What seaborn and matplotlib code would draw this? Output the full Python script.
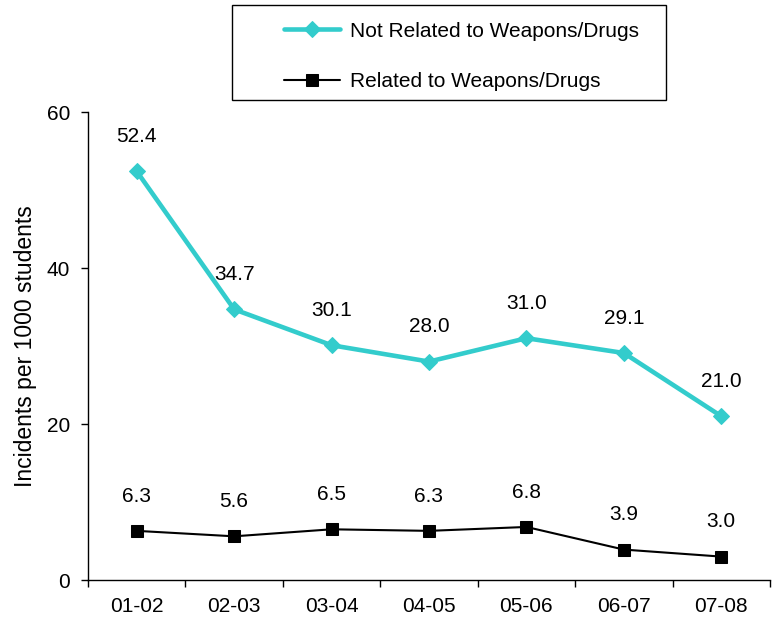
import matplotlib
matplotlib.use("Agg")
import matplotlib.pyplot as plt
from matplotlib.patches import Rectangle
import seaborn as sns
import pandas as pd

years = ["01-02", "02-03", "03-04", "04-05", "05-06", "06-07", "07-08"]
not_related = [52.4, 34.7, 30.1, 28.0, 31.0, 29.1, 21.0]
related = [6.3, 5.6, 6.5, 6.3, 6.8, 3.9, 3.0]
y_ticks = [0, 20, 40, 60]

sns.set_style("white")
plt.rcParams["font.family"] = ["Liberation Sans", "DejaVu Sans"]
plt.rcParams["text.color"] = "black"
plt.rcParams["axes.labelcolor"] = "black"
plt.rcParams["xtick.color"] = "black"
plt.rcParams["ytick.color"] = "black"

FS = 15

df = pd.DataFrame({"year": years, "not_related": not_related, "related": related})

fig = plt.figure(figsize=(7.74, 6.23), dpi=100)
ax = fig.add_axes([88 / 774, 1 - 580 / 623, (770 - 88) / 774, (580 - 112) / 623])

cyan = "#33CCCC"
sns.lineplot(data=df, x="year", y="not_related", ax=ax, color=cyan, lw=3.3,
             marker="D", markersize=8, markeredgecolor=cyan,
             label="Not Related to Weapons/Drugs")
sns.lineplot(data=df, x="year", y="related", ax=ax, color="black", lw=1.5,
             marker="s", markersize=8, markeredgecolor="black",
             label="Related to Weapons/Drugs")

for i, v in enumerate(not_related):
    ax.annotate(f"{v:.1f}", (i, v), xytext=(0, 25), textcoords="offset points",
                ha="center", va="center", fontsize=FS)
for i, v in enumerate(related):
    ax.annotate(f"{v:.1f}", (i, v), xytext=(0, 25), textcoords="offset points",
                ha="center", va="center", fontsize=FS)

ax.set_xlim(-0.5, len(years) - 0.5)
ax.set_ylim(0, 60)
ax.set_yticks(y_ticks)
ax.set_xticks(range(len(years)))
ax.set_xticklabels(years)
ax.set_xticks([i - 0.5 for i in range(len(years) + 1)], minor=True)
ax.tick_params(axis="x", which="major", bottom=True, length=0, pad=12, labelsize=FS)
ax.tick_params(axis="x", which="minor", bottom=True, length=5, width=1, direction="out")
ax.tick_params(axis="y", left=True, length=5, width=1, direction="out", pad=8, labelsize=FS)
ax.set_xlabel("")
ax.set_ylabel("Incidents per 1000 students", fontsize=16.5, labelpad=7)
for s in ["top", "right"]:
    ax.spines[s].set_visible(False)
for s in ["left", "bottom"]:
    ax.spines[s].set_color("black")
    ax.spines[s].set_linewidth(1)

leg = ax.legend(loc="upper left", bbox_to_anchor=(265 / 774, 1 - 3 / 623),
                bbox_transform=fig.transFigure, frameon=False, fontsize=FS,
                handlelength=2.7, handletextpad=0.5, labelspacing=1.5)
fig.add_artist(Rectangle((232 / 774, 1 - 100 / 623), 434 / 774, 95 / 623,
                         transform=fig.transFigure, fill=False,
                         edgecolor="black", linewidth=1))

fig.savefig("out.png", dpi=100)
